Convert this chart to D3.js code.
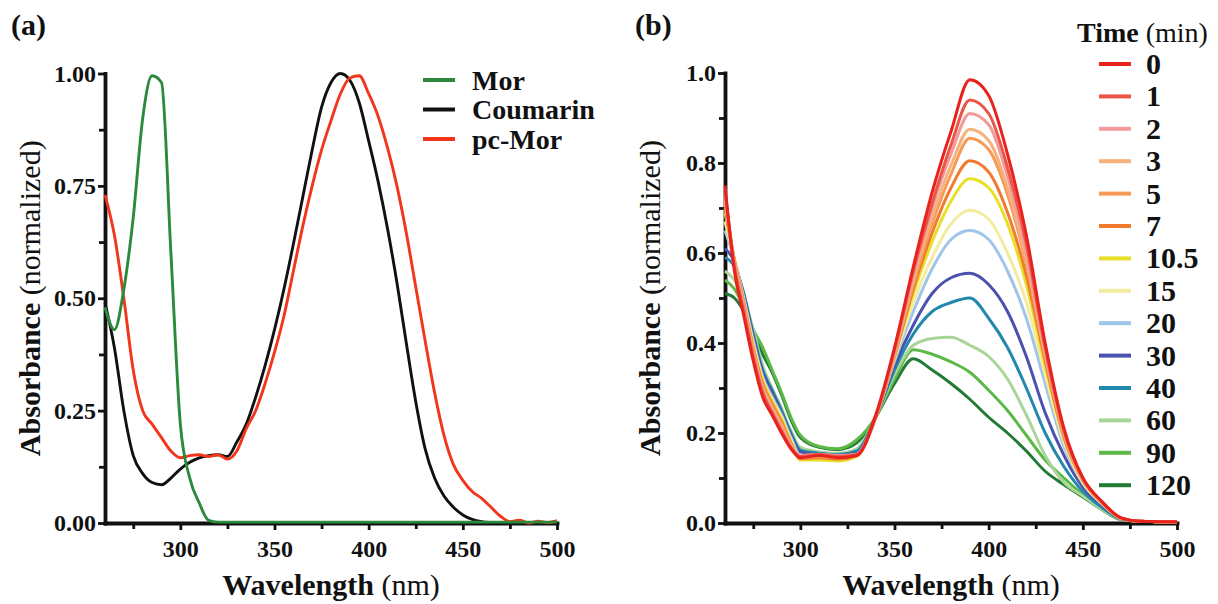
<!DOCTYPE html>
<html>
<head>
<meta charset="utf-8">
<script src="https://cdn.jsdelivr.net/npm/d3@7"></script>
<style>
  body { margin: 0; background: #fff; }
  svg text { font-family: "Liberation Serif", "Times New Roman", serif; fill: #111; }
</style>
</head>
<body>
<svg id="chart" width="1218" height="604"></svg>
<script>
// ---- panel (a): normalized spectra ----
const wavelengthA = [260, 265, 270, 275, 280, 285, 290, 295, 300, 305, 310, 315, 320, 325, 330, 335, 340,
  345, 350, 355, 360, 365, 370, 375, 380, 385, 390, 395, 400, 405, 410, 415, 420, 425, 430, 435, 440,
  445, 450, 455, 460, 465, 470, 475, 480, 485, 490, 495, 500];
const mor = [0.48, 0.43, 0.52, 0.68, 0.90, 0.995, 0.98, 0.60, 0.22, 0.10, 0.045, 0.006, 0.002, 0.002, 0.002, 0.002, 0.002,
  0.002, 0.002, 0.002, 0.002, 0.002, 0.002, 0.002, 0.002, 0.002, 0.002, 0.002, 0.002, 0.002, 0.002, 0.002, 0.002, 0.002, 0.002, 0.002, 0.002,
  0.002, 0.002, 0.002, 0.002, 0.002, 0.002, 0.002, 0.002, 0.002, 0.002, 0.002, 0.002];
const coumarin = [0.49, 0.39, 0.25, 0.15, 0.11, 0.09, 0.085, 0.10, 0.12, 0.135, 0.145, 0.15, 0.152, 0.148, 0.18, 0.22, 0.28,
  0.35, 0.43, 0.52, 0.62, 0.725, 0.83, 0.925, 0.98, 1.0, 0.985, 0.935, 0.85, 0.76, 0.655, 0.535, 0.40, 0.27, 0.165, 0.10, 0.06,
  0.035, 0.018, 0.008, 0.003, 0.001, 0, 0, 0, 0, 0, 0, 0];
const pcMor = [0.73, 0.64, 0.50, 0.34, 0.25, 0.22, 0.19, 0.16, 0.145, 0.15, 0.152, 0.148, 0.152, 0.142, 0.16, 0.21, 0.25,
  0.31, 0.38, 0.46, 0.56, 0.66, 0.75, 0.83, 0.895, 0.955, 0.99, 0.995, 0.955, 0.905, 0.835, 0.75, 0.645, 0.525, 0.405, 0.29, 0.195,
  0.13, 0.095, 0.07, 0.055, 0.035, 0.015, 0.003, 0.006, 0, 0.004, 0.001, 0.005];
const seriesA = ['Mor', 'Coumarin', 'pc-Mor'];
const colorsA = ['#2b8a3c', '#111111', '#f2361c'];

// ---- panel (b): spectra over time ----
const wavelengthB = [260, 265, 270, 275, 280, 285, 290, 295, 300, 310, 320, 330, 340, 350, 360, 370, 380,
  390, 400, 410, 420, 430, 440, 450, 460, 470, 480, 490, 500];
const times = ['0', '1', '2', '3', '5', '7', '10.5', '15', '20', '30', '40', '60', '90', '120'];
const colorsB = ['#e8221c', '#ec5447', '#f29a9c', '#f7b27c', '#f69a55', '#f27a2e', '#e8df26',
  '#f3eca0', '#9fc5ea', '#4b52ae', '#2389ac', '#a8d598', '#5cb847', '#237a35'];
const t0 = [0.75, 0.56, 0.46, 0.36, 0.28, 0.24, 0.20, 0.165, 0.145, 0.15, 0.145, 0.15, 0.24, 0.39, 0.57, 0.735, 0.87, 0.985, 0.95, 0.82, 0.64, 0.40, 0.21, 0.10, 0.048, 0.012, 0.004, 0.003, 0.003];
const t1 = [0.74, 0.57, 0.47, 0.37, 0.29, 0.245, 0.205, 0.168, 0.148, 0.152, 0.148, 0.152, 0.235, 0.385, 0.56, 0.71, 0.84, 0.94, 0.91, 0.79, 0.62, 0.39, 0.205, 0.10, 0.048, 0.012, 0.004, 0.003, 0.002];
const t2 = [0.73, 0.575, 0.475, 0.375, 0.295, 0.25, 0.21, 0.17, 0.15, 0.153, 0.15, 0.153, 0.235, 0.38, 0.55, 0.70, 0.82, 0.91, 0.885, 0.77, 0.60, 0.38, 0.20, 0.098, 0.047, 0.012, 0.004, 0.003, 0.002];
const t3 = [0.72, 0.58, 0.48, 0.38, 0.30, 0.255, 0.215, 0.172, 0.148, 0.15, 0.147, 0.152, 0.235, 0.375, 0.54, 0.68, 0.795, 0.875, 0.85, 0.745, 0.585, 0.375, 0.20, 0.097, 0.047, 0.011, 0.004, 0.003, 0.002];
const t5 = [0.71, 0.58, 0.485, 0.385, 0.305, 0.26, 0.22, 0.175, 0.145, 0.148, 0.145, 0.15, 0.235, 0.375, 0.53, 0.665, 0.775, 0.855, 0.83, 0.73, 0.575, 0.37, 0.195, 0.096, 0.046, 0.011, 0.004, 0.003, 0.002];
const t7 = [0.70, 0.585, 0.49, 0.39, 0.31, 0.265, 0.225, 0.178, 0.143, 0.145, 0.142, 0.15, 0.235, 0.37, 0.52, 0.645, 0.745, 0.805, 0.78, 0.69, 0.55, 0.36, 0.19, 0.095, 0.046, 0.011, 0.004, 0.003, 0.002];
const t10 = [0.69, 0.585, 0.49, 0.39, 0.315, 0.27, 0.23, 0.18, 0.14, 0.14, 0.138, 0.148, 0.235, 0.37, 0.51, 0.625, 0.715, 0.765, 0.745, 0.665, 0.53, 0.35, 0.19, 0.094, 0.045, 0.011, 0.004, 0.003, 0.002];
const t15 = [0.67, 0.585, 0.495, 0.40, 0.32, 0.275, 0.235, 0.185, 0.145, 0.145, 0.142, 0.15, 0.235, 0.365, 0.49, 0.59, 0.665, 0.695, 0.675, 0.60, 0.49, 0.33, 0.18, 0.09, 0.044, 0.011, 0.004, 0.003, 0.002];
const t20 = [0.65, 0.585, 0.50, 0.405, 0.325, 0.28, 0.24, 0.19, 0.15, 0.148, 0.145, 0.152, 0.235, 0.36, 0.47, 0.565, 0.63, 0.65, 0.63, 0.56, 0.455, 0.31, 0.17, 0.088, 0.043, 0.011, 0.004, 0.003, 0.002];
const t30 = [0.61, 0.58, 0.505, 0.415, 0.335, 0.29, 0.245, 0.195, 0.158, 0.152, 0.15, 0.155, 0.235, 0.35, 0.44, 0.51, 0.545, 0.555, 0.53, 0.47, 0.37, 0.245, 0.15, 0.08, 0.04, 0.01, 0.004, 0.003, 0.002];
const t40 = [0.59, 0.57, 0.51, 0.42, 0.34, 0.295, 0.25, 0.20, 0.162, 0.155, 0.152, 0.16, 0.235, 0.34, 0.42, 0.47, 0.49, 0.50, 0.455, 0.39, 0.30, 0.20, 0.125, 0.07, 0.035, 0.01, 0.004, 0.003, 0.002];
const t60 = [0.56, 0.54, 0.50, 0.43, 0.35, 0.30, 0.255, 0.205, 0.168, 0.158, 0.155, 0.165, 0.235, 0.33, 0.395, 0.41, 0.413, 0.395, 0.37, 0.32, 0.24, 0.15, 0.09, 0.06, 0.03, 0.009, 0.004, 0.003, 0.002];
const t90 = [0.54, 0.52, 0.48, 0.43, 0.39, 0.34, 0.29, 0.235, 0.195, 0.17, 0.165, 0.185, 0.235, 0.32, 0.385, 0.375, 0.358, 0.335, 0.295, 0.25, 0.195, 0.14, 0.10, 0.063, 0.03, 0.009, 0.004, 0.003, 0.002];
const t120 = [0.51, 0.50, 0.47, 0.425, 0.375, 0.335, 0.285, 0.23, 0.19, 0.168, 0.163, 0.178, 0.235, 0.31, 0.365, 0.34, 0.31, 0.275, 0.235, 0.20, 0.16, 0.115, 0.085, 0.058, 0.03, 0.008, 0.004, 0.003, 0.002];

const majorX = [300, 350, 400, 450, 500];
const minorX = [275, 325, 375, 425, 475];
const majorYA = [0, 0.25, 0.5, 0.75, 1];
const minorYA = [0.125, 0.375, 0.625, 0.875];
const majorYB = [0, 0.2, 0.4, 0.6, 0.8, 1];
const minorYB = [0.1, 0.3, 0.5, 0.7, 0.9];

const FONT = '"Liberation Serif", "Times New Roman", serif';
const svg = d3.select('#chart');
svg.append('rect').attr('width', 1218).attr('height', 604).attr('fill', '#fff');

function styleAxis (sel) {
  sel.attr('font-family', FONT).attr('font-size', 24).attr('font-weight', 'bold');
  sel.select('.domain').attr('stroke', '#111').attr('stroke-width', 3.8).attr('stroke-linecap', 'square');
  sel.selectAll('.tick line').attr('stroke', '#111').attr('stroke-width', 2.8);
  sel.selectAll('.tick text').attr('fill', '#111');
}

function drawPanel (p) {
  const x = d3.scaleLinear().domain([260, 500]).range(p.xr);
  const y = d3.scaleLinear().domain([0, 1]).range(p.yr);
  const g = svg.append('g');

  // minor ticks first, no labels
  g.append('g').attr('transform', `translate(0,${p.yr[0]})`)
    .call(d3.axisBottom(x).tickValues(minorX).tickSize(6).tickFormat(''))
    .call(styleAxis).select('.domain').remove();
  g.append('g').attr('transform', `translate(${p.xr[0]},0)`)
    .call(d3.axisLeft(y).tickValues(p.minorY).tickSize(6).tickFormat(''))
    .call(styleAxis).select('.domain').remove();

  g.append('g').attr('transform', `translate(0,${p.yr[0]})`)
    .call(d3.axisBottom(x).tickValues(majorX).tickSize(7).tickSizeOuter(0).tickPadding(10))
    .call(styleAxis);
  g.append('g').attr('transform', `translate(${p.xr[0]},0)`)
    .call(d3.axisLeft(y).tickValues(p.majorY).tickSize(7).tickSizeOuter(0).tickPadding(2)
      .tickFormat(d3.format(p.fmt)))
    .call(styleAxis);

  // axis titles
  const cx = (p.xr[0] + p.xr[1]) / 2;
  const xt = g.append('text').attr('x', cx).attr('y', 595)
    .attr('text-anchor', 'middle').attr('font-size', 30);
  xt.append('tspan').attr('font-weight', 'bold').text('Wavelength');
  xt.append('tspan').text(' (nm)');

  const cy = (p.yr[0] + p.yr[1]) / 2;
  const yt = g.append('text')
    .attr('transform', `translate(${p.ytx},${cy}) rotate(-90)`)
    .attr('text-anchor', 'middle').attr('font-size', 30);
  yt.append('tspan').attr('font-weight', 'bold').text('Absorbance');
  yt.append('tspan').text(' (normalized)');

  g.append('text').attr('x', p.labelX).attr('y', 35)
    .attr('font-size', 30).attr('font-weight', 'bold').text(p.label);

  return {x, y, g};
}

// ---------- (a) ----------
const A = drawPanel({xr: [105, 557], yr: [523, 73.5], majorY: majorYA, minorY: minorYA,
  fmt: '.2f', ytx: 40, labelX: 11, label: '(a)'});
const dataA = [mor, coumarin, pcMor];

const lineA = d3.line()
  .x((d, i) => A.x(wavelengthA[i]))
  .y(d => A.y(d))
  .curve(d3.curveMonotoneX);

// Mor on top of the others near the axis, pc-Mor over coumarin
[1, 2, 0].forEach(k => {
  A.g.append('path').attr('d', lineA(dataA[k]))
    .attr('fill', 'none').attr('stroke', colorsA[k]).attr('stroke-width', 2.9)
    .attr('stroke-linejoin', 'round');
});

const legA = A.g.append('g');
seriesA.forEach((name, i) => {
  const ly = 80 + i * 29.5;
  legA.append('line').attr('x1', 423).attr('x2', 455).attr('y1', ly).attr('y2', ly)
    .attr('stroke', colorsA[i]).attr('stroke-width', 4);
  legA.append('text').attr('x', 472).attr('y', ly + 9.5)
    .attr('font-size', 28).attr('font-weight', 'bold').text(name);
});

// ---------- (b) ----------
const B = drawPanel({xr: [725, 1177], yr: [523, 73], majorY: majorYB, minorY: minorYB,
  fmt: '.1f', ytx: 660, labelX: 635, label: '(b)'});
const dataB = [t0, t1, t2, t3, t5, t7, t10, t15, t20, t30, t40, t60, t90, t120];

const lineB = d3.line()
  .x((d, i) => B.x(wavelengthB[i]))
  .y(d => B.y(d))
  .curve(d3.curveMonotoneX);

// latest times underneath, time 0 on top
for (let k = dataB.length - 1; k >= 0; k--) {
  B.g.append('path').attr('d', lineB(dataB[k]))
    .attr('fill', 'none').attr('stroke', colorsB[k]).attr('stroke-width', 3)
    .attr('stroke-linejoin', 'round');
}

const legB = B.g.append('g');
const title = legB.append('text').attr('x', 1077).attr('y', 42).attr('font-size', 28);
title.append('tspan').attr('font-weight', 'bold').text('Time');
title.append('tspan').text(' (min)');
times.forEach((t, i) => {
  const ly = 64 + i * 32.4;
  legB.append('line').attr('x1', 1099).attr('x2', 1131).attr('y1', ly).attr('y2', ly)
    .attr('stroke', colorsB[i]).attr('stroke-width', 4);
  legB.append('text').attr('x', 1146).attr('y', ly + 10)
    .attr('font-size', 30).attr('font-weight', 'bold').text(t);
});
</script>
</body>
</html>
